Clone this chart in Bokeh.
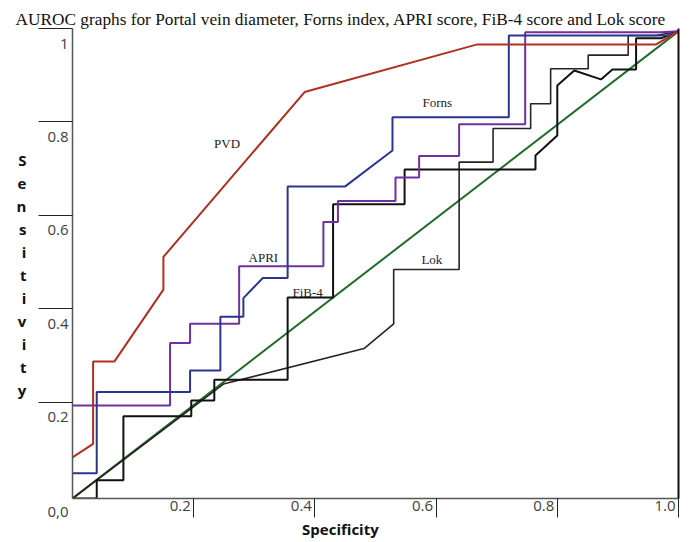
from bokeh.plotting import figure
from bokeh.models import Range1d, LinearAxis, FixedTicker, CustomJSTickFormatter, ColumnDataSource, LabelSet
from bokeh.core.properties import value
from bokeh.embed import file_html
from bokeh.resources import INLINE

TITLE = "AUROC graphs for Portal vein diameter, Forns index, APRI score, FiB-4 score and Lok score"
X_TITLE = "Specificity"
Y_TITLE = "Sensitivity"

# ROC curves: x = specificity axis value, y = sensitivity
pvd_x = [0.0, 0.034, 0.034, 0.069, 0.150, 0.150, 0.383, 0.668, 0.963, 1.0]
pvd_y = [0.088, 0.117, 0.293, 0.293, 0.447, 0.517, 0.870, 0.972, 0.972, 1.0]

forns_x = [0.0, 0.040, 0.040, 0.194, 0.194, 0.244, 0.244, 0.282, 0.282, 0.314,
           0.355, 0.355, 0.450, 0.528, 0.528, 0.720, 0.720, 0.983, 1.0]
forns_y = [0.054, 0.054, 0.228, 0.228, 0.274, 0.274, 0.389, 0.389, 0.429, 0.472,
           0.472, 0.668, 0.668, 0.745, 0.816, 0.816, 0.991, 0.991, 1.0]

apri_x = [0.0, 0.161, 0.161, 0.194, 0.194, 0.275, 0.275, 0.414, 0.414, 0.438, 0.438,
          0.533, 0.533, 0.572, 0.572, 0.638, 0.638, 0.747, 0.747, 0.971, 1.0]
apri_y = [0.199, 0.199, 0.333, 0.333, 0.374, 0.374, 0.497, 0.497, 0.592, 0.592, 0.637,
          0.637, 0.687, 0.687, 0.733, 0.733, 0.801, 0.801, 0.998, 0.998, 1.0]

fib4_x = [0.0, 0.040, 0.040, 0.084, 0.084, 0.196, 0.196, 0.234, 0.234, 0.355, 0.355,
          0.430, 0.430, 0.548, 0.548, 0.764, 0.764, 0.800, 0.800, 0.828, 0.872,
          0.891, 0.930, 0.930, 0.971, 1.0]
fib4_y = [0.0, 0.0, 0.039, 0.039, 0.176, 0.176, 0.210, 0.210, 0.254, 0.254, 0.430,
          0.430, 0.630, 0.630, 0.704, 0.704, 0.734, 0.777, 0.884, 0.916, 0.897,
          0.918, 0.918, 0.985, 0.985, 1.0]

lok_x = [0.0, 0.249, 0.481, 0.530, 0.530, 0.638, 0.638, 0.694, 0.694, 0.756, 0.756,
         0.789, 0.789, 0.851, 0.851, 0.917, 0.917, 0.963, 1.0]
lok_y = [0.0, 0.245, 0.321, 0.374, 0.490, 0.490, 0.720, 0.720, 0.792, 0.792, 0.845,
         0.845, 0.920, 0.920, 0.949, 0.949, 0.991, 0.991, 1.0]

ref_x = [0.0, 1.0]
ref_y = [0.0, 1.0]

curve_names = ["PVD", "Forns", "APRI", "FiB-4", "Lok"]
name_x = [0.255, 0.602, 0.315, 0.388, 0.593]
name_y = [0.760, 0.848, 0.516, 0.441, 0.512]

y_ticks = [0.2, 0.4, 0.6, 0.8, 1.0]
y_tick_labels = ["0.2", "0.4", "0.6", "0.8", "1"]
x_ticks = [0.2, 0.4, 0.6, 0.8, 1.0]
x_tick_labels = ["0.2", "0.4", "0.6", "0.8", "1.0"]
origin_label = "0,0"

# ---- layout helpers (pixel offsets turned into range shifts) ----
Y_SPAN = 1.006            # data span shown vertically (frame 470 px)
Y_PX = 470 / Y_SPAN
X_PX = 606.0
tick_shift = 0.006        # tick axis sits ~3 px above the curve scale
ylab_shift = 14 / Y_PX    # y labels drawn 14 px under their tick
xlab_shift = 13.5 / X_PX  # x labels drawn left of their tick

p = figure(width=697, height=542, x_range=Range1d(0, 1), y_range=Range1d(0, Y_SPAN),
           output_backend="svg", toolbar_location=None,
           x_axis_location=None, y_axis_location=None,
           min_border_left=72, min_border_right=19, min_border_top=28,
           min_border_bottom=44)
tk_start = -tick_shift
lab_start = tk_start + ylab_shift
p.extra_y_ranges = {"tk": Range1d(tk_start, tk_start + Y_SPAN),
                    "ylab": Range1d(lab_start, lab_start + Y_SPAN)}
p.extra_x_ranges = {"xlab": Range1d(xlab_shift, 1 + xlab_shift)}
p.outline_line_color = None
p.grid.visible = False
p.background_fill_color = "white"
p.border_fill_color = "white"

p.title.text = TITLE
p.title.text_font = "Liberation Serif"
p.title.text_font_size = "17.3px"
p.title.text_font_style = "normal"
p.title.text_color = "#111111"
p.title.align = "left"
p.title.offset = -57
p.title.standoff = 0

blank = CustomJSTickFormatter(code="return ''")
LABEL_FONT = "Open Sans"

# left: tick marks + axis line (inner)
yax = LinearAxis(y_range_name="tk", ticker=FixedTicker(ticks=y_ticks), formatter=blank,
                 major_tick_out=34, major_tick_in=0, minor_tick_out=0, minor_tick_in=0,
                 minor_tick_line_color=None,
                 major_tick_line_color="#222222", major_tick_line_width=1,
                 axis_line_color="#555555", axis_line_width=1.5,
                 major_label_text_font_size="0px", major_label_standoff=0)
p.add_layout(yax, "left")

# left: tick labels + title (outer), pulled back under the tick marks
ylab_over = {t: s for t, s in zip(y_ticks, y_tick_labels)}
ylab_over[lab_start] = "\n" + origin_label
ylab_ax = LinearAxis(y_range_name="ylab", ticker=FixedTicker(ticks=[lab_start] + y_ticks),
                     major_label_overrides=ylab_over,
                     major_tick_out=0, major_tick_in=0, minor_tick_out=0, minor_tick_in=0,
                     major_tick_line_color=None, minor_tick_line_color=None,
                     axis_line_color=None, major_label_standoff=-30,
                     major_label_text_font=LABEL_FONT, major_label_text_font_size="15px",
                     major_label_text_color="#404040",
                     axis_label="\n" + "\n".join(Y_TITLE), axis_label_orientation="horizontal",
                     axis_label_standoff=18, axis_label_text_font=LABEL_FONT,
                     axis_label_text_font_size="15px", axis_label_text_font_style="bold",
                     axis_label_text_color="#111111", axis_label_text_line_height=1.15)
p.add_layout(ylab_ax, "left")

# bottom: tick marks + axis line (inner)
xax = LinearAxis(ticker=FixedTicker(ticks=x_ticks), formatter=blank,
                 major_tick_out=19, major_tick_in=0, minor_tick_out=0, minor_tick_in=0,
                 minor_tick_line_color=None,
                 major_tick_line_color="#222222", major_tick_line_width=1,
                 axis_line_color="#555555", axis_line_width=1.5,
                 major_label_text_font_size="0px", major_label_standoff=0)
p.add_layout(xax, "below")

# bottom: tick labels + title (outer)
xlab_ax = LinearAxis(x_range_name="xlab", ticker=FixedTicker(ticks=x_ticks),
                     major_label_overrides={t: s for t, s in zip(x_ticks, x_tick_labels)},
                     major_tick_out=0, major_tick_in=0, minor_tick_out=0, minor_tick_in=0,
                     major_tick_line_color=None, minor_tick_line_color=None,
                     axis_line_color=None, major_label_standoff=-17,
                     major_label_text_font=LABEL_FONT, major_label_text_font_size="15px",
                     major_label_text_color="#404040",
                     axis_label=X_TITLE + "\u00a0" * 18, axis_label_standoff=5,
                     axis_label_text_font=LABEL_FONT, axis_label_text_font_size="15px",
                     axis_label_text_font_style="bold", axis_label_text_color="#111111")
p.add_layout(xlab_ax, "below")

# right border line
rax = LinearAxis(ticker=FixedTicker(ticks=[]), formatter=blank,
                 major_tick_line_color=None, minor_tick_line_color=None,
                 axis_line_color="#111111", axis_line_width=2,
                 major_label_text_font_size="0px", major_label_standoff=0)
p.add_layout(rax, "right")

# curves
p.line(ref_x, ref_y, line_color="#1f6b2a", line_width=2)
p.line(lok_x, lok_y, line_color="#2b2222", line_width=1.6)
p.line(fib4_x, fib4_y, line_color="#111111", line_width=2)
p.line(apri_x, apri_y, line_color="#7030a0", line_width=2)
p.line(forns_x, forns_y, line_color="#2a3590", line_width=2)
p.line(pvd_x, pvd_y, line_color="#b0301f", line_width=2)

names_src = ColumnDataSource(dict(x=name_x, y=name_y, t=curve_names))
p.add_layout(LabelSet(x="x", y="y", text="t", source=names_src,
                      text_font=value("Liberation Serif"), text_font_size="13px",
                      text_color="#222222", text_align="center", text_baseline="middle"))

open("out.html", "w").write(file_html(p, INLINE))
